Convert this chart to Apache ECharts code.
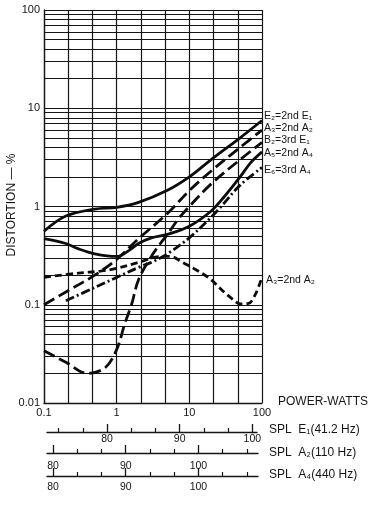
<!DOCTYPE html>
<html><head><meta charset="utf-8">
<script src="https://cdn.jsdelivr.net/npm/echarts@6/dist/echarts.min.js"></script>
<style>html,body{margin:0;padding:0;background:#fff}#c{width:368px;height:506px}</style>
</head><body><div id="c"></div>
<script>
// ---- data ----
const xTickLabels = ['0.1','1','10','100'];
const yTickLabels = ['0.01','0.1','1','10','100'];

// E2 = 2nd E1 (solid, upper)
const e2Power = [0.1,0.2,0.5,1,2,5,10,20,50,100];
const e2Dist  = [0.56,0.8,0.94,0.98,1.1,1.46,2.0,3.0,5.0,7.5];
// A3 = 2nd A2 (long dash, upper)
const a3uPower = [0.1,0.2,0.5,1,2,5,10,20,50,100];
const a3uDist  = [0.1,0.135,0.2,0.29,0.47,0.85,1.45,2.3,4.0,6.0];
// B2 = 3rd E1 (long dash, steep)
const b2Power = [0.1,0.2,0.4,0.7,1,1.3,1.6,2,3,4,5,7,10,20,50,100];
const b2Dist  = [0.034,0.026,0.02,0.023,0.035,0.065,0.1,0.18,0.31,0.42,0.52,0.74,1.0,1.7,3.0,4.5];
// A5 = 2nd A4 (solid, lower)
const a5Power = [0.1,0.2,0.3,0.5,1,1.5,2,3,5,10,20,30,50,70,100];
const a5Dist  = [0.47,0.42,0.37,0.33,0.31,0.36,0.42,0.48,0.52,0.63,0.9,1.25,2.0,2.8,3.6];
// E6 = 3rd A4 (dash-dot)
const e6Power = [0.2,0.5,1,2,3,5,10,20,30,50,100];
const e6Dist  = [0.11,0.15,0.19,0.24,0.27,0.33,0.48,0.78,1.08,1.65,2.5];
// A3 = 2nd A2 (short dash, lower)
const a3lPower = [0.1,0.3,0.6,1,2,4,5.5,8,12,19,30,40,50,65,80,100];
const a3lDist  = [0.19,0.21,0.22,0.235,0.27,0.31,0.31,0.27,0.23,0.185,0.135,0.113,0.102,0.103,0.125,0.19];

// SPL scales (dB)
const splE1Range = [71.74, 100.64];
const splA2Range = [79.17, 108.2];
const splA4Range = [79.17, 108.2];
const splE1Major = [80,90,100];
const splE1Minor = [73.33,76.67,83.33,86.67,93.33,96.67];
const splA2Major = [80,90,100];
const splA2Minor = [83.33,86.67,93.33,96.67,103.33,106.67];
const splA4Major = [80,90,100];
const splA4Minor = [83.33,86.67,93.33,96.67,103.33,106.67];

// ---- chart ----
const FONT = 'Liberation Sans';
const INK = '#151515';
const zip = (a,b) => a.map((v,i)=>[v,b[i]]);
const decadeIdx = (v, lo) => {
  const l = Math.log10(v), e = Math.round(l);
  return Math.abs(l - e) < 1e-6 ? e - lo : -1;
};
const chart = echarts.init(document.getElementById('c'), null, {renderer:'canvas'});

function splAxes(grid, range, major, minor, margin){
  return [
    {type:'value', gridIndex:grid, min:range[0], max:range[1], position:'bottom',
     axisLine:{show:true, lineStyle:{color:INK, width:1.3}},
     axisTick:{show:true, inside:true, length:8, customValues:major, lineStyle:{color:INK, width:1.3}},
     axisLabel:{show:true, customValues:major, margin:margin, color:INK, fontFamily:FONT, fontSize:10.5},
     splitLine:{show:false}},
    {type:'value', gridIndex:grid, min:range[0], max:range[1], position:'bottom',
     axisLine:{show:false},
     axisTick:{show:true, inside:true, length:4, customValues:minor, lineStyle:{color:INK, width:1.2}},
     axisLabel:{show:false}, splitLine:{show:false}}
  ];
}

function line(p, d, type){
  return {type:'line', xAxisIndex:0, yAxisIndex:0, data:zip(p,d), smooth:0.35,
    symbol:'none', silent:true, lineStyle:{color:'#0d0d0d', width:2.8, type:type}};
}

const labelTexts = [
  ['E\u2082=2nd E\u2081', 264, 116],
  ['A\u2083=2nd A\u2082', 264, 128],
  ['B\u2082=3rd E\u2081', 264, 140],
  ['A\u2085=2nd A\u2084', 264, 153],
  ['E\u2086=3rd A\u2084', 264, 170],
  ['A\u2083=2nd A\u2082', 266, 280],
  ['SPL  E\u2081(41.2 Hz)', 269, 430],
  ['SPL  A\u2082(110 Hz)', 269, 453],
  ['SPL  A\u2084(440 Hz)', 269, 475],
  ['POWER-WATTS', 278, 402]
];

const graphics = labelTexts.map(([t,x,y],i)=>({
  type:'text', x:x, y:y, silent:true,
  style:{text:t, fill:INK, font:(i>=6? '12px ':'10.5px ')+FONT, align:'left', verticalAlign:'middle'}
}));
graphics.push({type:'text', x:12, y:205, rotation:Math.PI/2, silent:true,
  style:{text:'DISTORTION \u2014 %', fill:INK, font:'12px '+FONT, align:'center', verticalAlign:'middle'}});

const option = {
  animation:false,
  backgroundColor:'#fff',
  grid:[
    {left:44, top:10, width:218, height:393},
    {left:47, top:412, width:210, height:20},
    {left:47, top:433, width:211, height:20},
    {left:47, top:456, width:211, height:20}
  ],
  xAxis:[
    {type:'log', gridIndex:0, logBase:Math.pow(10,1/3), min:0.1, max:100,
     axisLine:{show:true, lineStyle:{color:INK, width:1.3}},
     axisTick:{show:false},
     axisLabel:{color:INK, fontFamily:FONT, fontSize:11, margin:4,
       formatter:(v)=>{const k=decadeIdx(v,-1); return k>=0 ? xTickLabels[k] : '';}},
     splitLine:{show:true, lineStyle:{color:INK, width:1.2}}},
    ...splAxes(1, splE1Range, splE1Major, splE1Minor, 2),
    ...splAxes(2, splA2Range, splA2Major, splA2Minor, 8),
    ...splAxes(3, splA4Range, splA4Major, splA4Minor, 6)
  ],
  yAxis:[
    {type:'log', gridIndex:0, logBase:10, min:0.01, max:100,
     axisLine:{show:true, lineStyle:{color:INK, width:1.3}},
     axisTick:{show:false},
     minorTick:{show:false, splitNumber:9},
     minorSplitLine:{show:true, lineStyle:{color:INK, width:1.1}},
     axisLabel:{color:INK, fontFamily:FONT, fontSize:11, margin:4,
       formatter:(v)=>{const k=decadeIdx(v,-2); return k>=0 ? yTickLabels[k] : '';}},
     splitLine:{show:true, lineStyle:{color:INK, width:1.2}}},
    {type:'value', gridIndex:1, show:false},
    {type:'value', gridIndex:2, show:false},
    {type:'value', gridIndex:3, show:false}
  ],
  series:[
    line(e2Power, e2Dist, 'solid'),
    line(a3uPower, a3uDist, [12,5]),
    line(b2Power, b2Dist, [12,5]),
    line(a5Power, a5Dist, 'solid'),
    line(e6Power, e6Dist, [9,3,2,3]),
    line(a3lPower, a3lDist, [7,4])
  ],
  graphic: graphics
};
chart.setOption(option);
</script>
</body></html>
